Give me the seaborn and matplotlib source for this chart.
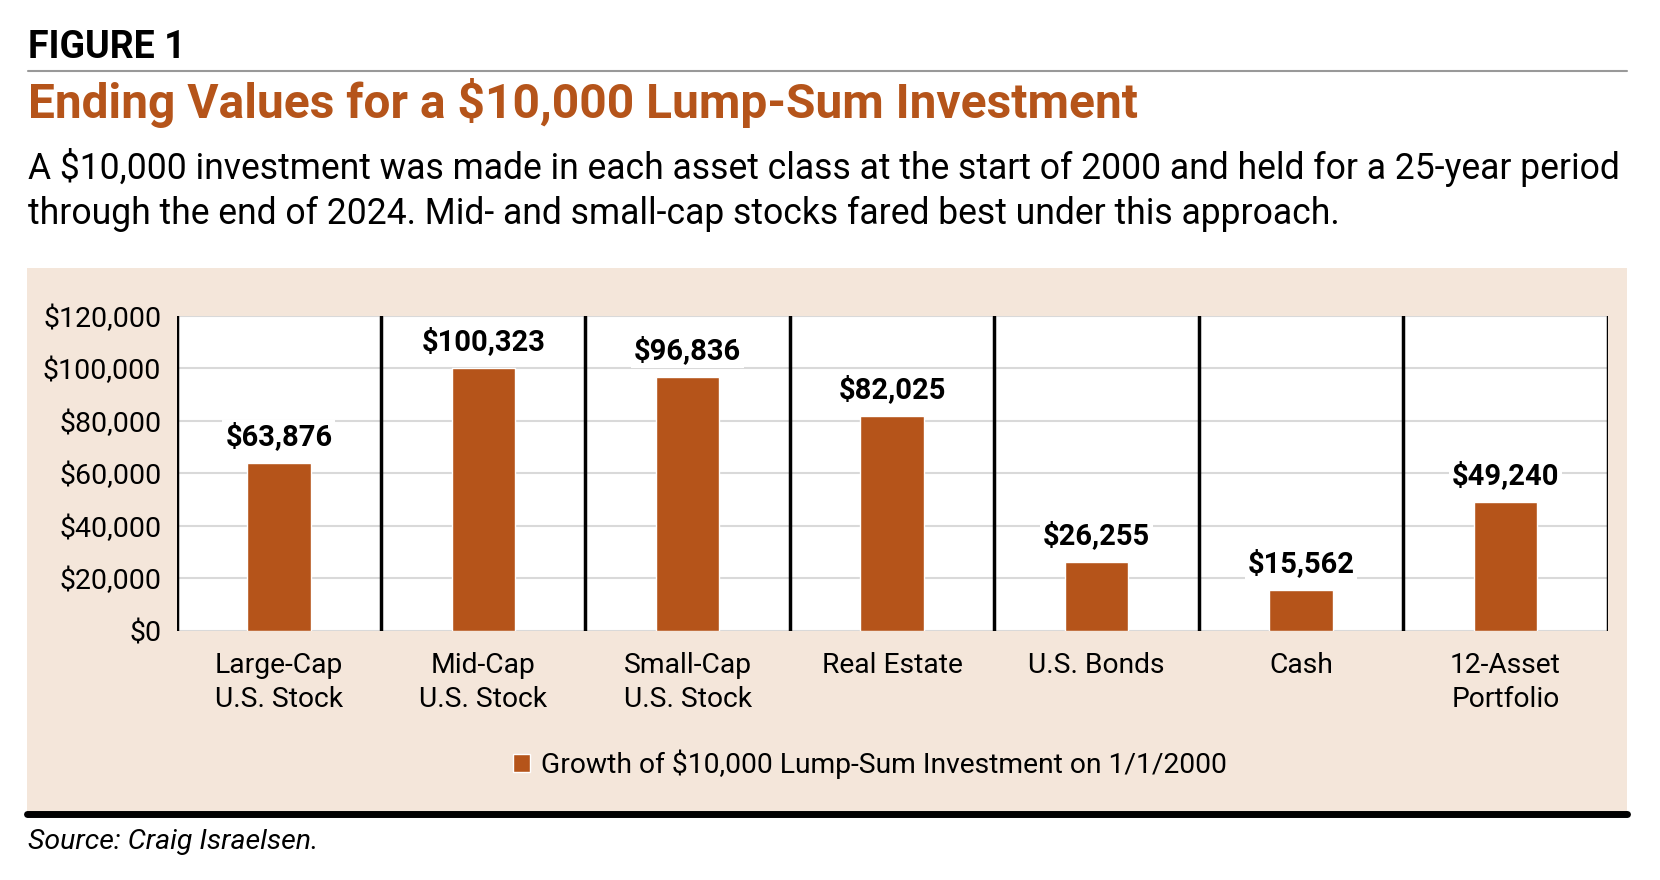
import matplotlib
matplotlib.use("Agg")
import matplotlib.pyplot as plt
import seaborn as sns
import pandas as pd
from matplotlib.patches import Rectangle
from matplotlib.lines import Line2D
from matplotlib.ticker import FuncFormatter

categories = ["Large-Cap\nU.S. Stock", "Mid-Cap\nU.S. Stock", "Small-Cap\nU.S. Stock",
              "Real Estate", "U.S. Bonds", "Cash", "12-Asset\nPortfolio"]
ending_values = [63876, 100323, 96836, 82025, 26255, 15562, 49240]
series_name = "Growth of $10,000 Lump-Sum Investment on 1/1/2000"
y_ticks = [0, 20000, 40000, 60000, 80000, 100000, 120000]

bar_color = "#B5541A"
panel_color = "#F4E6DA"

sns.set_theme(style="white")
plt.rcParams["font.family"] = ["Roboto", "DejaVu Sans"]
plt.rcParams["text.color"] = "black"
plt.rcParams["xtick.color"] = "black"
plt.rcParams["ytick.color"] = "black"

df = pd.DataFrame({"asset": categories, "value": ending_values})

fig = plt.figure(figsize=(16.6, 8.8), dpi=100)

# beige panel behind the chart
fig.patches.append(Rectangle((0.016, 0.077), 0.964, 0.619, transform=fig.transFigure,
                             facecolor=panel_color, edgecolor="none", zorder=-1))
fig.lines.append(Line2D([0.016, 0.980], [0.075, 0.075], transform=fig.transFigure,
                        color="black", lw=5))
fig.lines.append(Line2D([0.017, 0.980], [0.919, 0.919], transform=fig.transFigure,
                        color="#999999", lw=1.5))

fig.text(0.017, 0.946, "FIGURE 1", fontsize=27, fontweight="bold", va="center")
fig.text(0.017, 0.883, "Ending Values for a $10,000 Lump-Sum Investment", fontsize=34.5,
         fontweight="bold", color=bar_color, va="center")
fig.text(0.017, 0.81, "A $10,000 investment was made in each asset class at the start of 2000 "
         "and held for a 25-year period", fontsize=25.6, va="center")
fig.text(0.017, 0.757, "through the end of 2024. Mid- and small-cap stocks fared best under "
         "this approach.", fontsize=25.6, va="center")
fig.text(0.017, 0.043, "Source: Craig Israelsen.", fontsize=20.5, style="italic", va="center")

ax = fig.add_axes([0.1064, 0.283, 0.862, 0.358])
ax.set_facecolor("white")
sns.barplot(data=df, x="asset", y="value", color=bar_color, width=0.31, ax=ax,
            saturation=1, zorder=3)

ax.set_ylim(0, 120000)
ax.set_xlim(-0.5, len(categories) - 0.5)
ax.set_yticks(y_ticks)
ax.yaxis.set_major_formatter(FuncFormatter(lambda v, p: f"${v:,.0f}"))
ax.grid(axis="y", color="#D9D9D9", lw=1.5, zorder=0)
ax.set_axisbelow(True)
for i in range(len(categories) + 1):
    ax.axvline(i - 0.5, color="black", lw=2.5, zorder=4)
for s in ax.spines.values():
    s.set_visible(False)
ax.tick_params(axis="both", length=0, colors="black")
ax.tick_params(axis="y", labelsize=20.5, pad=11)
ax.tick_params(axis="x", labelsize=20.3, pad=15)
for lbl in ax.get_xticklabels():
    lbl.set_linespacing(1.35)
ax.set_xlabel("")
ax.set_ylabel("")

for i, v in enumerate(ending_values):
    ax.text(i, v + 4500, f"${v:,.0f}", ha="center", va="bottom", fontsize=21,
            fontweight="bold", zorder=5,
            bbox=dict(facecolor="white", edgecolor="none", pad=2))

handles = [Rectangle((0, 0), 1, 1, facecolor=bar_color)]
fig.legend(handles, [series_name], loc="center", bbox_to_anchor=(0.524, 0.132),
           frameon=False, fontsize=20.3, handlelength=0.6, handleheight=0.6,
           handletextpad=0.4)

fig.savefig("out.png", dpi=100)
